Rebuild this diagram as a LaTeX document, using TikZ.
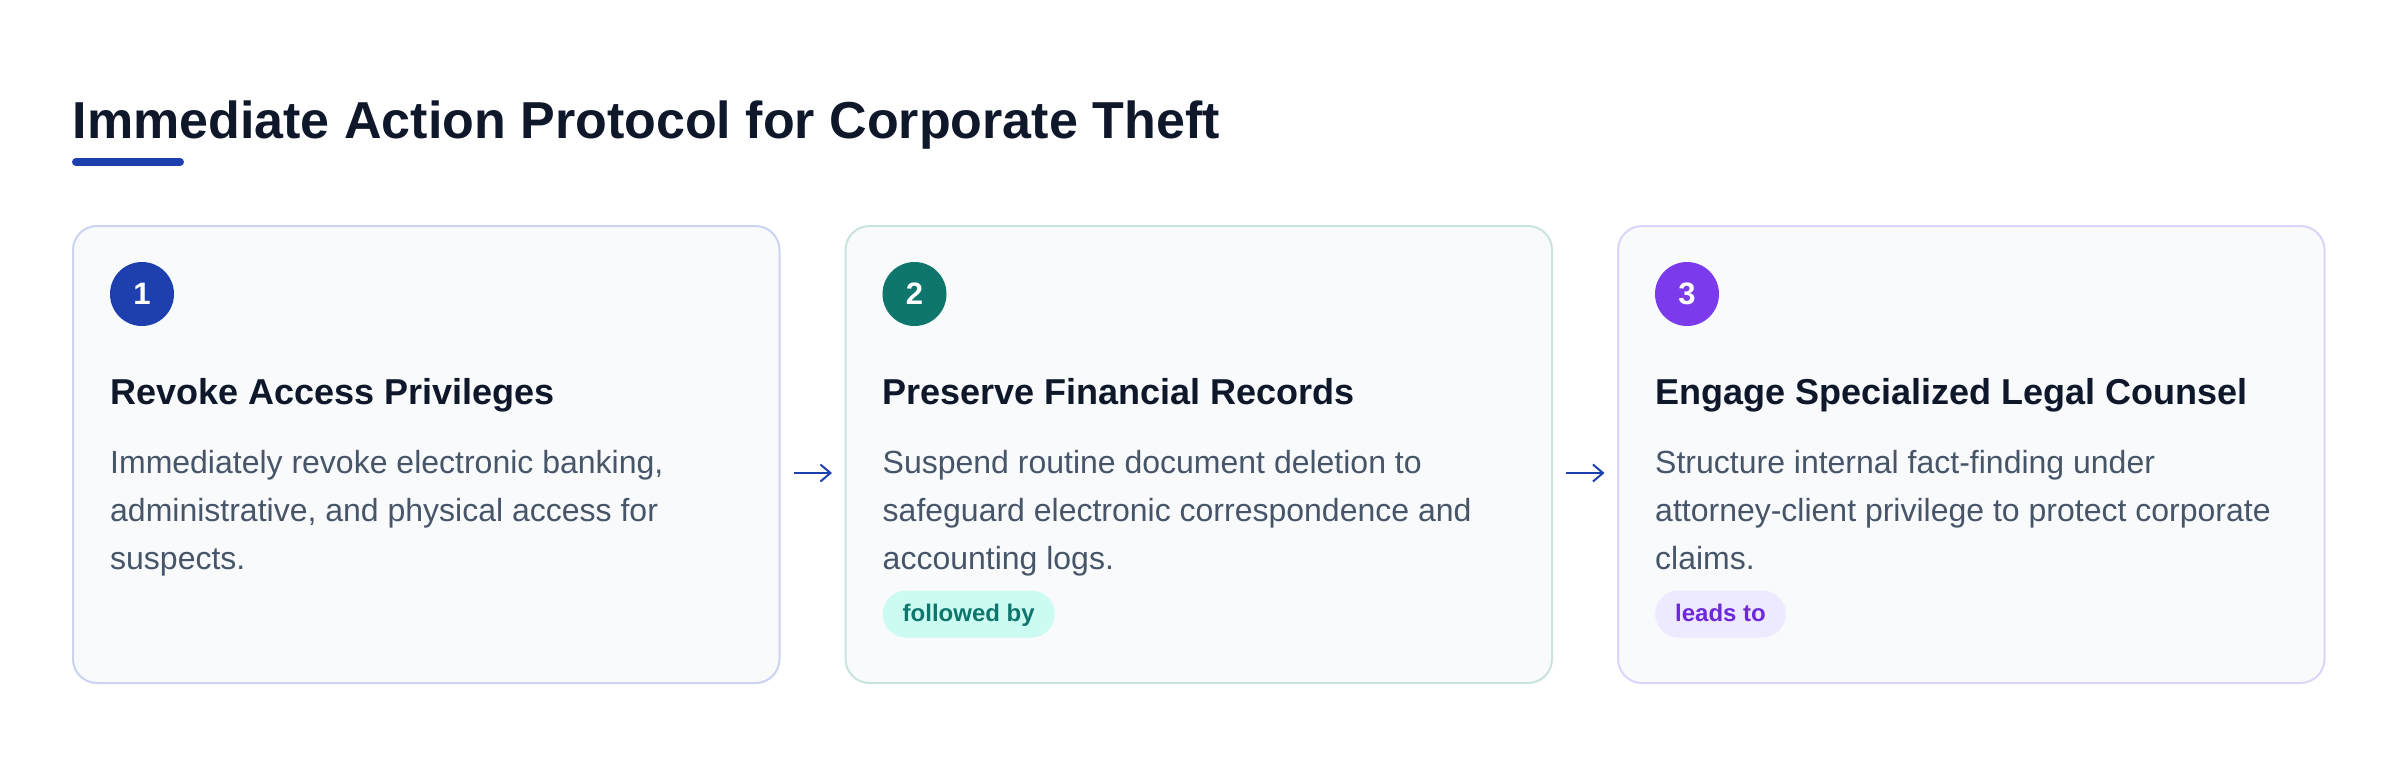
\documentclass[tikz,border=0pt]{standalone}
\usepackage{fontspec}
\setmainfont{Liberation Sans}
\usetikzlibrary{arrows.meta}
\definecolor{ink}{HTML}{0F172A}
\definecolor{body}{HTML}{475569}
\definecolor{navy}{HTML}{1E40AF}
\definecolor{teal}{HTML}{0F766E}
\definecolor{violet}{HTML}{7C3AED}
\definecolor{violetdk}{HTML}{6D28D9}
\definecolor{cardbg}{HTML}{F8FAFC}
\definecolor{bdone}{HTML}{CBD3F1}
\definecolor{bdtwo}{HTML}{C9E3DF}
\definecolor{bdthree}{HTML}{DDD4FB}
\definecolor{tealbg}{HTML}{CCFBF1}
\definecolor{violetbg}{HTML}{EDE9FE}
\tikzset{
  card/.style={draw, line width=2pt, fill=cardbg, rounded corners=24pt,
    minimum width=706.5pt, minimum height=457pt, anchor=north west, inner sep=0pt},
  numdot/.style={circle, minimum size=64pt, inner sep=0pt, text=white,
    font=\fontsize{31}{31}\selectfont\bfseries},
  heading/.style={anchor=base west, inner sep=0pt, text=ink,
    font=\fontsize{36}{36}\selectfont\bfseries},
  bodyline/.style={anchor=base west, inner sep=0pt, text=body,
    font=\fontsize{32}{32}\selectfont},
  badge/.style={anchor=west, rounded corners=23.5pt, minimum height=47pt,
    inner xsep=20pt, inner ysep=0pt, text height=17pt, text depth=3pt,
    font=\fontsize{24}{24}\selectfont\bfseries},
  flow/.style={draw=navy, line width=2pt, -{Straight Barb[length=10pt,width=17pt,line width=2pt]}}
}
\begin{document}
\begin{tikzpicture}[x=1pt,y=-1pt]
\path[use as bounding box, fill=white] (0,0) rectangle (2400,756);
% title
\node[anchor=base west, inner sep=0pt, text=ink, font=\fontsize{52}{52}\selectfont\bfseries] (title) at (72.5,138) {Immediate Action Protocol for Corporate Theft};
\draw[navy, line width=8pt, line cap=round] (76,162) coordinate (ul1) -- (180,162) coordinate (ul2);
% cards
\node[card, draw=bdone] (c1) at (72,225) {};
\node[card, draw=bdtwo] (c2) at (844.5,225) {};
\node[card, draw=bdthree] (c3) at (1617,225) {};
% card 1
\node[numdot, fill=navy] (n1) at (142,294) {1};
\node[heading] (h1) at (110,404) {Revoke Access Privileges};
\node[bodyline] (b11) at (110,473) {Immediately revoke electronic banking,};
\node[bodyline] (b12) at (110,521) {administrative, and physical access for};
\node[bodyline] (b13) at (110,569) {suspects.};
% card 2
\node[numdot, fill=teal] (n2) at (914.5,294) {2};
\node[heading] (h2) at (882.5,404) {Preserve Financial Records};
\node[bodyline] (b21) at (882.5,473) {Suspend routine document deletion to};
\node[bodyline] (b22) at (882.5,521) {safeguard electronic correspondence and};
\node[bodyline] (b23) at (882.5,569) {accounting logs.};
\node[badge, fill=tealbg, text=teal] (g2) at (882.5,614) {followed by};
% card 3
\node[numdot, fill=violet] (n3) at (1687,294) {3};
\node[heading] (h3) at (1655,404) {Engage Specialized Legal Counsel};
\node[bodyline] (b31) at (1655,473) {Structure internal fact-finding under};
\node[bodyline] (b32) at (1655,521) {attorney-client privilege to protect corporate};
\node[bodyline] (b33) at (1655,569) {claims.};
\node[badge, fill=violetbg, text=violetdk] (g3) at (1655,614) {leads to};
% connectors
\coordinate (a1s) at ([xshift=13pt,yshift=-18.5pt]c1.east);
\coordinate (a1e) at ([xshift=-12.5pt,yshift=-18.5pt]c2.west);
\coordinate (a2s) at ([xshift=13pt,yshift=-18.5pt]c2.east);
\coordinate (a2e) at ([xshift=-12.5pt,yshift=-18.5pt]c3.west);
\draw[flow] (a1s) -- (a1e);
\draw[flow] (a2s) -- (a2e);
\end{tikzpicture}
\end{document}
